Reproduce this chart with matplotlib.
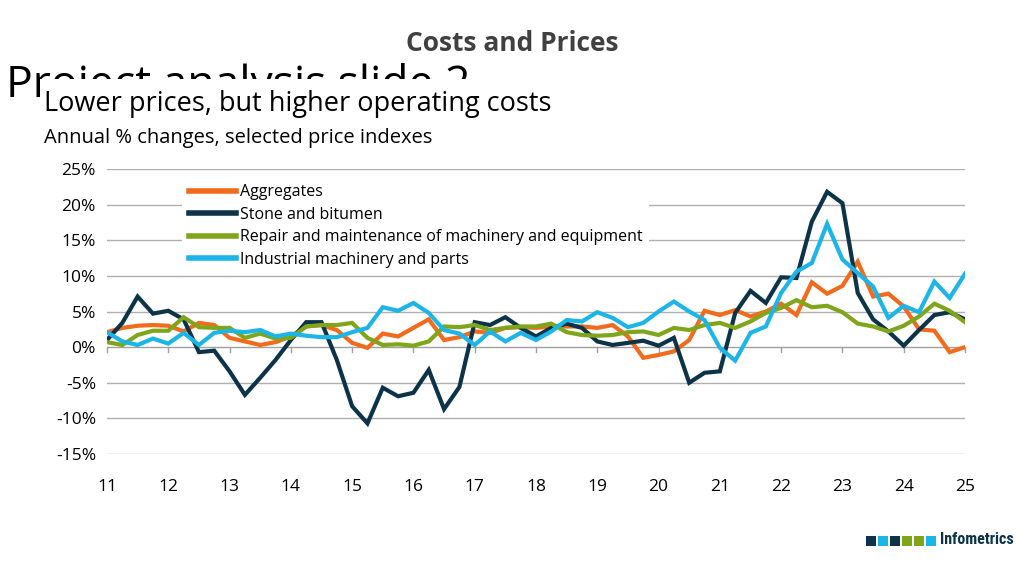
import matplotlib
matplotlib.use("Agg")
import matplotlib.pyplot as plt
import numpy as np

years = [11 + 0.25 * i for i in range(57)]
aggregates = [2.1,2.7,3.0,3.1,3.0,2.2,3.4,3.1,1.3,0.8,0.3,0.7,1.5,2.9,3.1,2.4,0.6,-0.1,1.9,1.5,2.7,3.9,1.0,1.4,2.2,2.0,2.7,2.8,
              2.7,2.9,2.9,2.9,2.7,3.1,1.5,-1.5,-1.1,-0.6,1.0,5.1,4.5,5.2,4.3,5.0,6.1,4.5,9.1,7.5,8.6,12.0,7.1,7.5,5.7,2.5,2.3,-0.7,0.0]
stone = [1.0,3.4,7.1,4.7,5.1,3.9,-0.7,-0.5,-3.4,-6.7,-4.3,-1.8,1.0,3.5,3.5,-1.8,-8.3,-10.7,-5.7,-6.9,-6.4,-3.2,-8.7,-5.6,3.5,3.1,4.2,2.7,
         1.5,2.7,3.3,2.7,0.8,0.3,0.6,0.9,0.2,1.3,-5.0,-3.6,-3.4,4.8,7.9,6.2,9.8,9.7,17.6,21.8,20.2,7.6,3.9,2.2,0.2,2.4,4.5,4.9,3.9]
repair = [0.7,0.3,1.7,2.3,2.3,4.2,2.8,2.7,2.7,1.3,1.9,1.2,1.3,2.9,3.1,3.1,3.4,1.3,0.3,0.4,0.2,0.8,2.9,2.8,3.1,2.4,2.7,2.9,
          2.9,3.3,2.1,1.7,1.6,1.7,2.1,2.2,1.7,2.7,2.4,3.1,3.4,2.7,3.6,4.8,5.5,6.6,5.6,5.8,4.9,3.3,2.9,2.2,3.0,4.3,6.1,5.1,3.5]
industrial = [2.1,0.8,0.3,1.2,0.5,2.0,0.3,2.0,2.3,2.1,2.4,1.5,1.9,1.6,1.4,1.4,2.1,2.7,5.6,5.1,6.2,4.8,2.4,1.9,0.3,2.2,0.8,2.0,
              1.0,2.2,3.8,3.6,4.9,4.1,2.8,3.4,5.0,6.4,5.0,3.8,-0.1,-1.9,2.0,2.9,7.6,10.6,11.8,17.3,12.3,10.4,8.5,4.1,5.8,4.9,9.2,6.9,10.3]
series_names = ["Aggregates", "Stone and bitumen",
                "Repair and maintenance of machinery and equipment", "Industrial machinery and parts"]
colors = ["#F26B1D", "#0D3349", "#7FA61B", "#1CB5E8"]
xticks = list(range(11, 26))
yticks = list(range(-15, 30, 5))

plt.rcParams['font.family'] = ['Open Sans', 'DejaVu Sans']
fig = plt.figure(figsize=(10.24, 5.75), dpi=100)

fig.text(0.5, 0.925, "Costs and Prices", ha='center', va='center', fontsize=19,
         fontweight='bold', color='#404040', zorder=3)
fig.text(0.006, 1 - 86/575, "Project analysis slide 2", ha='left', va='center', fontsize=32,
         color='black', zorder=1)
fig.patches.append(matplotlib.patches.Rectangle((40/1024, 0.0), 0.96, 1 - 79/575, transform=fig.transFigure,
                                                facecolor='white', edgecolor='none', zorder=2))
fig.text(0.043, 1 - 104/575, "Lower prices, but higher operating costs", ha='left', va='center',
         fontsize=19.5, color='black', zorder=3)
fig.text(0.043, 1 - 138/575, "Annual % changes, selected price indexes", ha='left', va='center',
         fontsize=14.5, color='black', zorder=3)

ax = fig.add_axes([107/1024, 1-454/575, (965-107)/1024, (454-169)/575], zorder=3)
ax.set_facecolor('none')
for y in yticks:
    if y != 0:
        ax.axhline(y, color='#B0B0B0', lw=1, zorder=0)
ax.axhline(0, color='#A0A0A0', lw=1, zorder=0)
for xt in xticks:
    ax.plot([xt, xt], [0, -0.7], color='#A0A0A0', lw=1, zorder=0, clip_on=False)

data = [aggregates, stone, repair, industrial]
for vals, name, c in zip(data, series_names, colors):
    ax.plot(years, vals, color=c, lw=3, label=name, solid_joinstyle='miter')

ax.set_xlim(11, 25)
ax.set_ylim(-15, 25)
ax.set_xticks(xticks)
ax.set_xticklabels([str(x) for x in xticks], fontsize=12.5)
ax.set_yticks(yticks)
ax.set_yticklabels([f"{y}%" if y >= 0 else f"-{abs(y)}%" for y in yticks], fontsize=12.5)
ax.tick_params(length=0, pad=8)
ax.tick_params(axis='x', pad=18)
for s in ax.spines.values():
    s.set_visible(False)

leg = ax.legend(loc='upper left', bbox_to_anchor=(0.082, 0.985), frameon=True, fontsize=11.5,
                handlelength=3, handletextpad=0.25, labelspacing=0.4, borderaxespad=0.3,
                fancybox=False, edgecolor='white', framealpha=1)
for l in leg.get_lines():
    l.set_linewidth(4)
leg.get_frame().set_linewidth(0)

# logo
sq_colors = ["#0D3349", "#1CB5E8", "#0D3349", "#7FA61B", "#7FA61B", "#1CB5E8"]
for i, c in enumerate(sq_colors):
    fig.patches.append(matplotlib.patches.Rectangle(((866 + i * 12) / 1024, 1 - 546 / 575), 10 / 1024, 10 / 575,
                                                    transform=fig.transFigure, facecolor=c, edgecolor='none', zorder=4))
fig.text(940/1024, 1-540/575, "Infometrics", ha='left', va='center', fontsize=11.5,
         fontweight='bold', color='#0D3349', family=['Roboto Condensed', 'Liberation Sans Narrow', 'DejaVu Sans'],
         zorder=4)

fig.savefig("out.png", dpi=100)
